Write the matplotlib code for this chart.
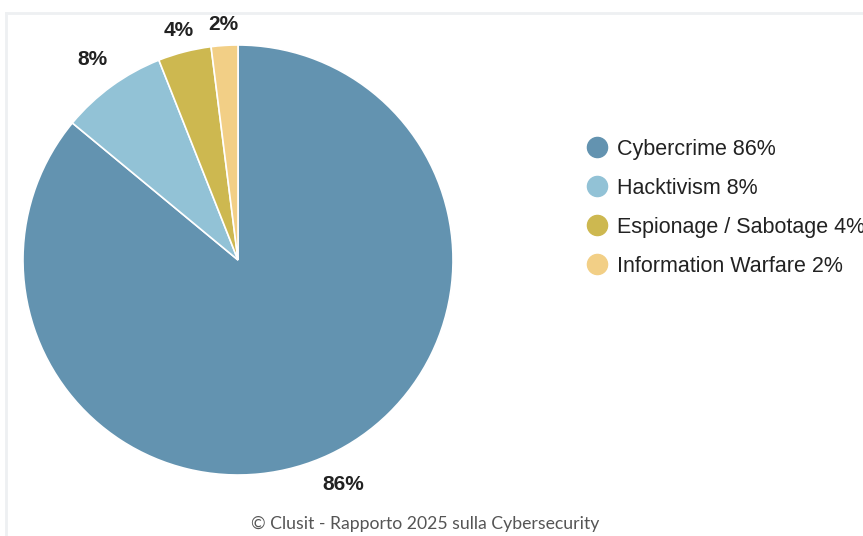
import numpy as np
import matplotlib.pyplot as plt
from matplotlib.lines import Line2D

plt.rcParams['font.family'] = ['Liberation Sans', 'DejaVu Sans']

# Clusit 2025 - attacchi per tipologia di attaccante
categorie = ["Cybercrime", "Hacktivism", "Espionage / Sabotage", "Information Warfare"]
percentuali = [86, 8, 4, 2]
colori = ["#6393b0", "#92c2d6", "#cdb850", "#f2cf86"]
dist_etichette = [1.155, 1.15, 1.102, 1.098]

W, H = 863, 536
fig = plt.figure(figsize=(W / 100, H / 100), dpi=100)

# cornice grigia chiara (solo lati sinistro e superiore visibili)
fig.add_artist(Line2D([6 / W, 6 / W], [0, 1 - 13 / H], transform=fig.transFigure,
                      color="#eef0f2", lw=2))
fig.add_artist(Line2D([6 / W, 1], [1 - 13 / H, 1 - 13 / H], transform=fig.transFigure,
                      color="#eef0f2", lw=2))

# torta: centro (238, 260), raggio 215 px
cx, cy, r = 238, 260, 215
ax = fig.add_axes([(cx - r) / W, 1 - (cy + r) / H, 2 * r / W, 2 * r / H])
wedges, testi = ax.pie(percentuali, colors=colori, startangle=90, counterclock=False,
                       labels=[f"{p}%" for p in percentuali],
                       wedgeprops=dict(edgecolor="white", linewidth=1.2),
                       textprops=dict(fontsize=15, fontweight="bold", color="#222222"))
for w, t, d in zip(wedges, testi, dist_etichette):
    ang = np.deg2rad((w.theta1 + w.theta2) / 2)
    t.set_position((d * np.cos(ang), d * np.sin(ang)))
    t.set_ha("center")
    t.set_va("center")
    t.set_clip_on(False)
ax.set_xlim(-1, 1)
ax.set_ylim(-1, 1)
ax.set_aspect("equal")
ax.axis("off")

# legenda a destra
handles = [Line2D([], [], marker="o", linestyle="", markersize=14.5,
                  markerfacecolor=c, markeredgecolor=c) for c in colori]
etichette = [f"{c} {p}%" for c, p in zip(categorie, percentuali)]
fig.legend(handles, etichette, loc="upper left", bbox_to_anchor=(578 / W, 1 - 130 / H),
           frameon=False, fontsize=15.5, labelspacing=0.84, handlelength=0.97,
           handletextpad=0.45, borderaxespad=0, labelcolor="#222222")

fig.text(425 / W, 1 - 524 / H, "© Clusit - Rapporto 2025 sulla Cybersecurity",
         ha="center", va="center", fontsize=12.7, color="#555555",
         family=["Lato", "DejaVu Sans"])

fig.savefig("out.png", dpi=100)
